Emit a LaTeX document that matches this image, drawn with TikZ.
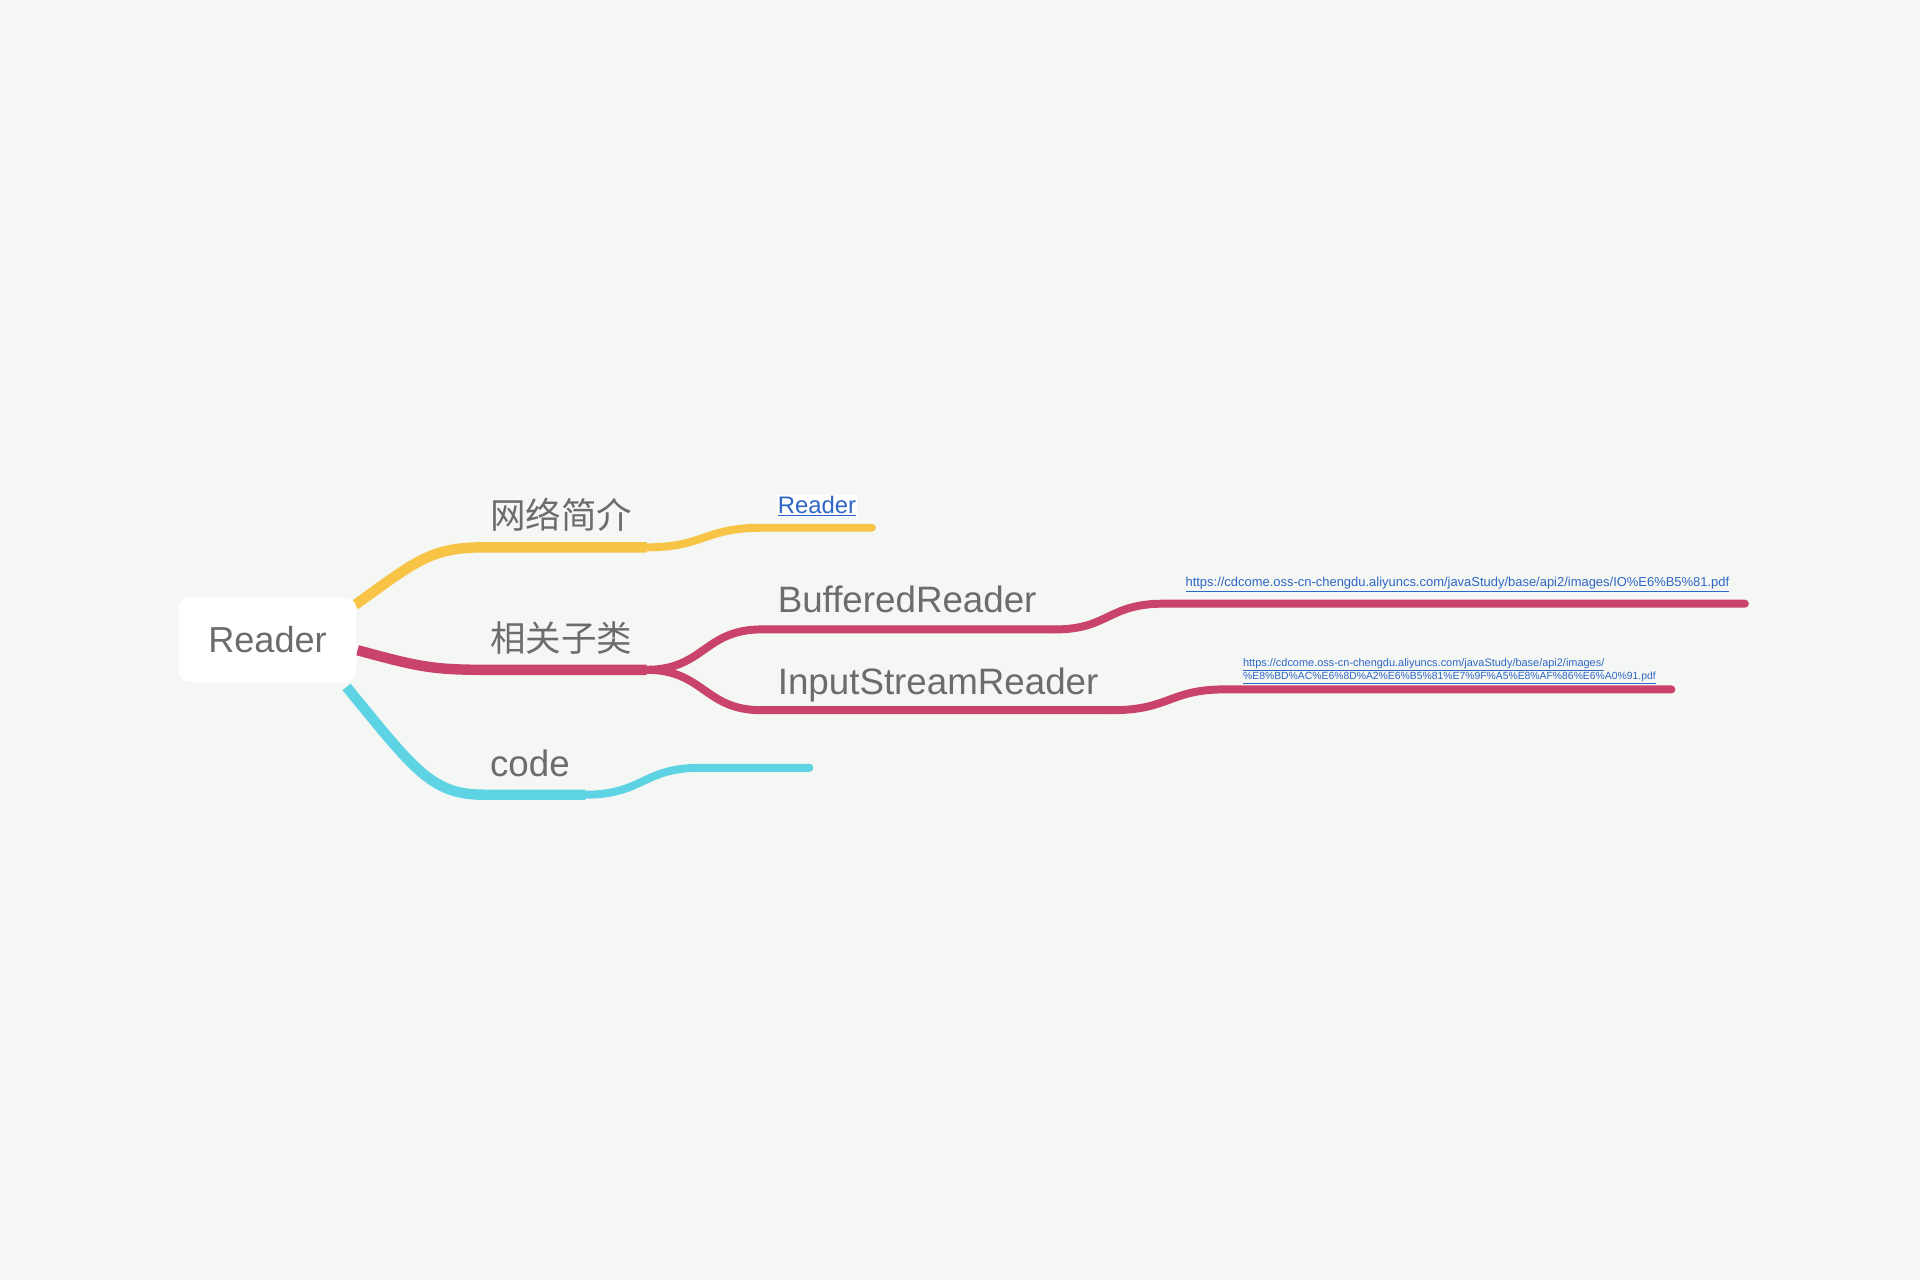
\documentclass[tikz,border=0pt]{standalone}
\usepackage{fontspec}
\setmainfont{Liberation Sans}
\newfontfamily\cjk{Noto Sans CJK SC}
\definecolor{bgc}{RGB}{245,247,244}
\definecolor{ylw}{RGB}{247,196,70}
\definecolor{crm}{RGB}{201,67,108}
\definecolor{cyn}{RGB}{94,211,227}
\definecolor{txt}{RGB}{108,108,108}
\definecolor{lnk}{RGB}{46,102,197}
\tikzset{
  lbl/.style={anchor=base west, inner sep=0pt, text=txt, font=\fontsize{30}{34}\selectfont},
  cjklbl/.style={anchor=base west, inner sep=0pt, text=txt, font=\cjk\fontsize{29}{34}\selectfont},
  urlsmall/.style={anchor=base west, inner sep=0pt, text=lnk},
  br1/.style={line width=8.5pt, line cap=butt},
  br2/.style={line width=6.5pt, line cap=round},
}
\begin{document}
\begin{tikzpicture}[x=1pt,y=-1pt]
\fill[bgc] (0,0) rectangle (1568,1045);
\useasboundingbox (0,0) rectangle (1568,1045);

% coordinates
\coordinate (ys) at (290,494);
\coordinate (y1) at (528,447);
\coordinate (y2) at (712,431);
\coordinate (rs) at (292,531);
\coordinate (r1) at (528,547);
\coordinate (rb) at (862,514);
\coordinate (rb2) at (1425,493);
\coordinate (ri) at (908,580);
\coordinate (ri2) at (1365,563);
\coordinate (cs) at (283,561);
\coordinate (c1) at (478,649);
\coordinate (c2) at (661,627);

% yellow branch
\draw[ylw,br1] (ys) .. controls (340,458) and (352,447) .. (395,447) -- (y1);
\draw[ylw,br2] (y1) .. controls (575,447) and (575,431) .. (622,431) -- (y2);

% crimson branch
\draw[crm,br1] (rs) .. controls (340,544) and (352,547) .. (395,547) -- (r1);
\draw[crm,br2] (r1) .. controls (575,547) and (575,514) .. (622,514) -- (rb);
\draw[crm,br2] (rb) .. controls (905,514) and (905,493) .. (950,493) -- (rb2);
\draw[crm,br2] (r1) .. controls (575,547) and (575,580) .. (622,580) -- (ri);
\draw[crm,br2] (ri) .. controls (955,580) and (955,563) .. (1000,563) -- (ri2);

% cyan branch
\draw[cyn,br1] (cs) .. controls (338,628) and (352,649) .. (395,649) -- (c1);
\draw[cyn,br2] (c1) .. controls (525,649) and (525,627) .. (572,627) -- (c2);

% root
\node[fill=white, rounded corners=9pt, minimum width=145pt, minimum height=69pt, inner sep=0pt,
      text=txt, font=\fontsize{29.5}{34}\selectfont] (root) at (218.5,522.5) {Reader};

% labels
\node[cjklbl] (n1) at (400,432) {网络简介};
\node[cjklbl] (n2) at (400,532) {相关子类};
\node[lbl] (n3) at (400,634) {code};
\node[lbl] (n4) at (635,500) {BufferedReader};
\node[lbl] (n5) at (635,567) {InputStreamReader};
\node[anchor=base west, inner sep=1pt, fill=white, text=lnk, font=\fontsize{19.5}{22}\selectfont] (n6) at (634,419) {\underline{Reader}};
\node[urlsmall, font=\fontsize{10.5}{12}\selectfont] (n7) at (968,479) {\resizebox{444pt}{!}{\underline{https://cdcome.oss-cn-chengdu.aliyuncs.com/javaStudy/base/api2/images/IO\%E6\%B5\%81.pdf}}};
\node[urlsmall, font=\fontsize{8.5}{10}\selectfont] (n8) at (1015,544) {\resizebox{295pt}{!}{\underline{https://cdcome.oss-cn-chengdu.aliyuncs.com/javaStudy/base/api2/images/}}};
\node[urlsmall, font=\fontsize{8.5}{10}\selectfont] (n9) at (1015,555) {\resizebox{337pt}{!}{\underline{\%E8\%BD\%AC\%E6\%8D\%A2\%E6\%B5\%81\%E7\%9F\%A5\%E8\%AF\%86\%E6\%A0\%91.pdf}}};
\end{tikzpicture}
\end{document}
